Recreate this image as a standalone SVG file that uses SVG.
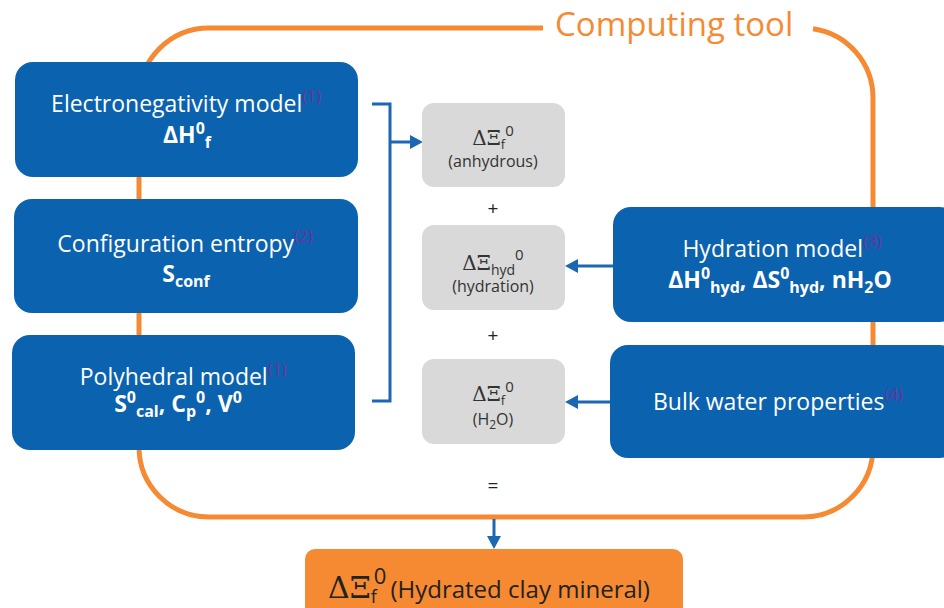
<svg xmlns="http://www.w3.org/2000/svg" width="944" height="608" viewBox="0 0 944 608">
<style>
.blue{fill:#0B62AF}
.grey{fill:#D9D9D9}
.w{font-family:"Open Sans","Liberation Sans",sans-serif;font-size:23px;fill:#FFFFFF}
.wb{font-family:"Open Sans","Liberation Sans",sans-serif;font-size:23px;font-weight:bold;fill:#FFFFFF}
.sm{font-size:16px}
.ref{font-size:16px;fill:#7030A0;font-weight:normal}
.g{font-family:"Open Sans","Liberation Sans",sans-serif;font-size:16px;fill:#333333}
.mth{font-family:"DejaVu Serif","Liberation Serif",serif}
.op{font-family:"Open Sans","Liberation Sans",sans-serif;font-size:19px;fill:#222222}
.conn{stroke:#1C67B1;stroke-width:3;fill:none}
</style>
<defs>
<marker id="ah" markerUnits="userSpaceOnUse" markerWidth="13" markerHeight="14" refX="4" refY="7" orient="auto">
<path d="M0,0 L13,7 L0,14 z" fill="#1C67B1"/>
</marker>
</defs>
<rect width="944" height="608" fill="#FFFFFF"/>
<g id="computing-tool">
<path d="M543,28 L209,28 A70,70 0 0 0 139,98 L139,447 A70,70 0 0 0 209,517 L803,517 A70,70 0 0 0 873,447 L873,98 A70,70 0 0 0 813,28.7" fill="none" stroke="#F58A33" stroke-width="5"/>
<text x="555" y="36" font-family="Open Sans, Liberation Sans, sans-serif" font-size="33" fill="#F58A33">Computing tool</text>
</g>
<g id="connectors">
<path class="conn" d="M372,104 L390,104 L390,401 L372,401"/>
<line class="conn" x1="390" y1="142" x2="414" y2="142" marker-end="url(#ah)"/>
<line class="conn" x1="613" y1="266" x2="574" y2="266" marker-end="url(#ah)"/>
<line class="conn" x1="610" y1="402" x2="574" y2="402" marker-end="url(#ah)"/>
<line class="conn" x1="494" y1="519" x2="494" y2="540" marker-end="url(#ah)"/>
</g>
<g id="electronegativity">
<rect class="blue" x="15" y="62" width="343" height="115" rx="18"/>
<text class="w" x="186" y="112" text-anchor="middle">Electronegativity model<tspan class="ref" dy="-10">(1)</tspan></text>
<text class="wb" x="187" y="143" text-anchor="middle">ΔH<tspan class="sm" dy="-9">0</tspan><tspan class="sm" dy="14">f</tspan></text>
</g>
<g id="configuration">
<rect class="blue" x="14" y="199" width="344" height="114" rx="18"/>
<text class="w" x="185" y="252" text-anchor="middle">Configuration entropy<tspan class="ref" dy="-10">(2)</tspan></text>
<text class="wb" x="186" y="282" text-anchor="middle">S<tspan class="sm" dy="5">conf</tspan></text>
</g>
<g id="polyhedral">
<rect class="blue" x="12" y="335" width="343" height="115" rx="18"/>
<text class="w" x="183" y="385" text-anchor="middle">Polyhedral model<tspan class="ref" dy="-10">(1)</tspan></text>
<text class="wb" x="178" y="412" text-anchor="middle">S<tspan class="sm" dy="-9">0</tspan><tspan class="sm" dy="14">cal</tspan><tspan dy="-5">, C</tspan><tspan class="sm" dy="5">p</tspan><tspan class="sm" dy="-14">0</tspan><tspan dy="9">, V</tspan><tspan class="sm" dy="-9">0</tspan></text>
</g>
<g id="anhydrous">
<rect class="grey" x="422" y="103" width="143" height="84" rx="12"/>
<text class="g" x="493" y="145" text-anchor="middle"><tspan class="mth" font-size="20">ΔΞ</tspan><tspan font-size="13" dy="4">f</tspan><tspan font-size="15" dy="-13">0</tspan></text>
<text class="g" x="493" y="167" text-anchor="middle">(anhydrous)</text>
</g>
<text class="op" x="493" y="215" text-anchor="middle">+</text>
<g id="hydration-term">
<rect class="grey" x="422" y="225" width="143" height="85" rx="12"/>
<text class="g" x="493" y="270" text-anchor="middle"><tspan class="mth" font-size="20">ΔΞ</tspan><tspan font-size="14" dy="5">hyd</tspan><tspan font-size="15" dy="-15">0</tspan></text>
<text class="g" x="493" y="292" text-anchor="middle">(hydration)</text>
</g>
<text class="op" x="493" y="342" text-anchor="middle">+</text>
<g id="water-term">
<rect class="grey" x="422" y="359" width="143" height="85" rx="12"/>
<text class="g" x="493" y="401" text-anchor="middle"><tspan class="mth" font-size="20">ΔΞ</tspan><tspan font-size="13" dy="4">f</tspan><tspan font-size="15" dy="-13">0</tspan></text>
<text class="g" x="493" y="425" text-anchor="middle">(H<tspan font-size="12" dy="4">2</tspan><tspan dy="-4">O)</tspan></text>
</g>
<text class="op" x="493" y="492" text-anchor="middle">=</text>
<g id="hydration-model">
<rect class="blue" x="613" y="207" width="345" height="115" rx="18"/>
<text class="w" x="782" y="257" text-anchor="middle">Hydration model<tspan class="ref" dy="-10">(3)</tspan></text>
<text class="wb" x="780" y="288" text-anchor="middle">ΔH<tspan class="sm" dy="-9">0</tspan><tspan class="sm" dy="14">hyd</tspan><tspan dy="-5">, ΔS</tspan><tspan class="sm" dy="-9">0</tspan><tspan class="sm" dy="14">hyd</tspan><tspan dy="-5">, nH</tspan><tspan class="sm" dy="5">2</tspan><tspan dy="-5">O</tspan></text>
</g>
<g id="bulk-water">
<rect class="blue" x="610" y="345" width="348" height="113" rx="18"/>
<text class="w" x="778" y="410" text-anchor="middle">Bulk water properties<tspan class="ref" dy="-10">(4)</tspan></text>
</g>
<g id="result">
<rect x="305" y="549" width="378" height="80" rx="10" fill="#F58A33"/>
<text x="328" y="598" font-family="Open Sans, Liberation Sans, sans-serif" font-size="24" fill="#222222"><tspan font-family="DejaVu Serif, Liberation Serif, serif" font-size="30">ΔΞ</tspan><tspan font-size="18" dy="5">f</tspan><tspan font-size="22" dx="-3" dy="-19">0</tspan><tspan dx="4" dy="14">(Hydrated clay mineral)</tspan></text>
</g>
</svg>
